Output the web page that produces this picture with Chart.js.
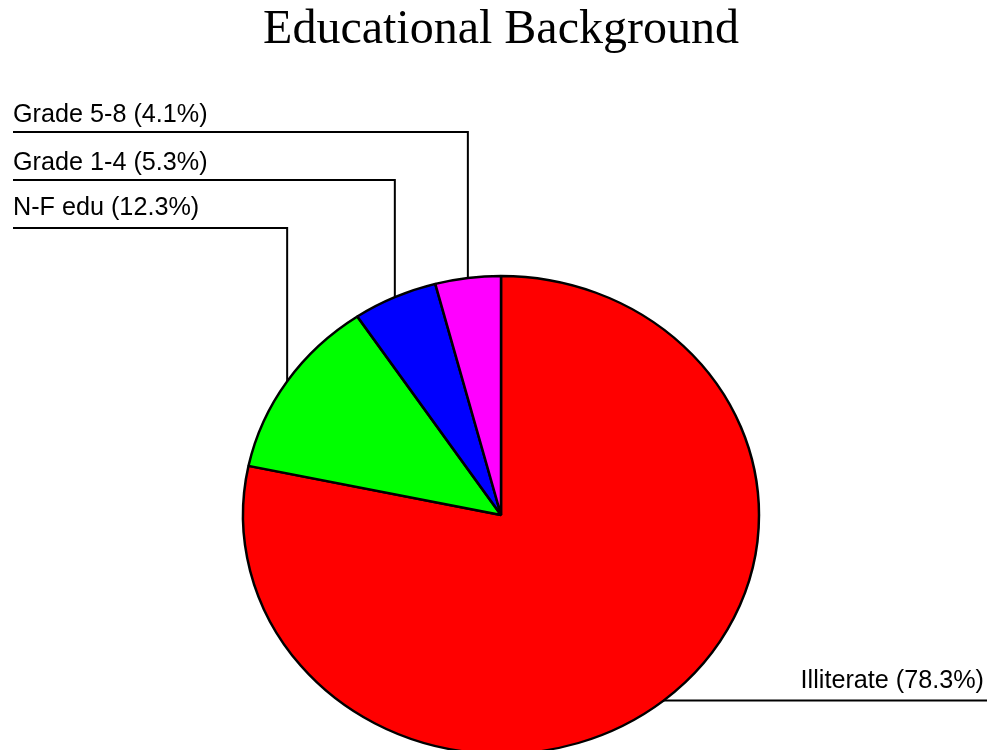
<!DOCTYPE html>
<html>
<head>
<meta charset="utf-8">
<script src="https://cdn.jsdelivr.net/npm/chart.js@4/dist/chart.umd.min.js"></script>
<style>
  html, body { margin: 0; padding: 0; background: #fff; overflow: hidden; }
  #wrap { width: 987px; height: 800px; }
</style>
</head>
<body>
<div id="wrap"><canvas id="edu" width="987" height="800"></canvas></div>
<script>
// values
var categories = ['Illiterate', 'N-F edu', 'Grade 1-4', 'Grade 5-8'];
var shares = [78.3, 12.3, 5.3, 4.1];
var sliceColors = ['#ff0000', '#00ff00', '#0000ff', '#ff00ff'];

// the pie in the picture is slightly squashed vertically
var squash = 239 / 258;

var ellipsePlugin = {
  id: 'ellipse',
  beforeDatasetsDraw: function(chart) {
    var arc = chart.getDatasetMeta(0).data[0];
    var ctx = chart.ctx;
    ctx.save();
    ctx.translate(arc.x, arc.y);
    ctx.scale(1, squash);
    ctx.translate(-arc.x, -arc.y);
  },
  afterDatasetsDraw: function(chart) {
    chart.ctx.restore();
  }
};

// leader lines + labels
var leaderPlugin = {
  id: 'leaders',
  afterDraw: function(chart) {
    var ctx = chart.ctx;
    var arcs = chart.getDatasetMeta(0).data;
    var rowY = 228, rowGap = 48, leftX = 13;
    ctx.save();
    ctx.strokeStyle = '#000';
    ctx.lineWidth = 2;
    ctx.fillStyle = '#000';
    ctx.font = '25.2px "Liberation Sans", Arial, sans-serif';
    ctx.textBaseline = 'alphabetic';
    arcs.forEach(function(a, i) {
      var mid = (a.startAngle + a.endAngle) / 2;
      var px = a.x + a.outerRadius * Math.cos(mid);
      var py = a.y + a.outerRadius * Math.sin(mid) * squash;
      var text = categories[i] + ' (' + shares[i] + '%)';
      ctx.beginPath();
      if (px > a.x) {
        ctx.moveTo(px, py);
        ctx.lineTo(chart.width, py);
        ctx.stroke();
        ctx.textAlign = 'right';
        ctx.fillText(text, 984, py - 13);
      } else {
        var ly = rowY - (i - 1) * rowGap;
        ctx.moveTo(px, py);
        ctx.lineTo(px, ly);
        ctx.lineTo(leftX, ly);
        ctx.stroke();
        ctx.textAlign = 'left';
        ctx.fillText(text, leftX, ly - (i === 1 ? 13 : 10));
      }
    });
    ctx.restore();
  }
};

new Chart('edu', {
  type: 'pie',
  data: {
    labels: categories,
    datasets: [{
      data: shares,
      backgroundColor: sliceColors,
      borderColor: '#000',
      borderWidth: 2.5,
      clip: false
    }]
  },
  options: {
    responsive: false,
    animation: false,
    events: [],
    radius: 258,
    layout: { padding: { left: 200, right: 185, top: 0, bottom: 0 } },
    plugins: {
      legend: { display: false },
      tooltip: { enabled: false },
      title: {
        display: true,
        text: 'Educational Background',
        color: '#000',
        font: { family: '"Liberation Serif", "Times New Roman", serif', size: 48, weight: 'normal' },
        padding: { top: 2, bottom: 170.4 }
      }
    }
  },
  plugins: [ellipsePlugin, leaderPlugin]
});
</script>
</body>
</html>
